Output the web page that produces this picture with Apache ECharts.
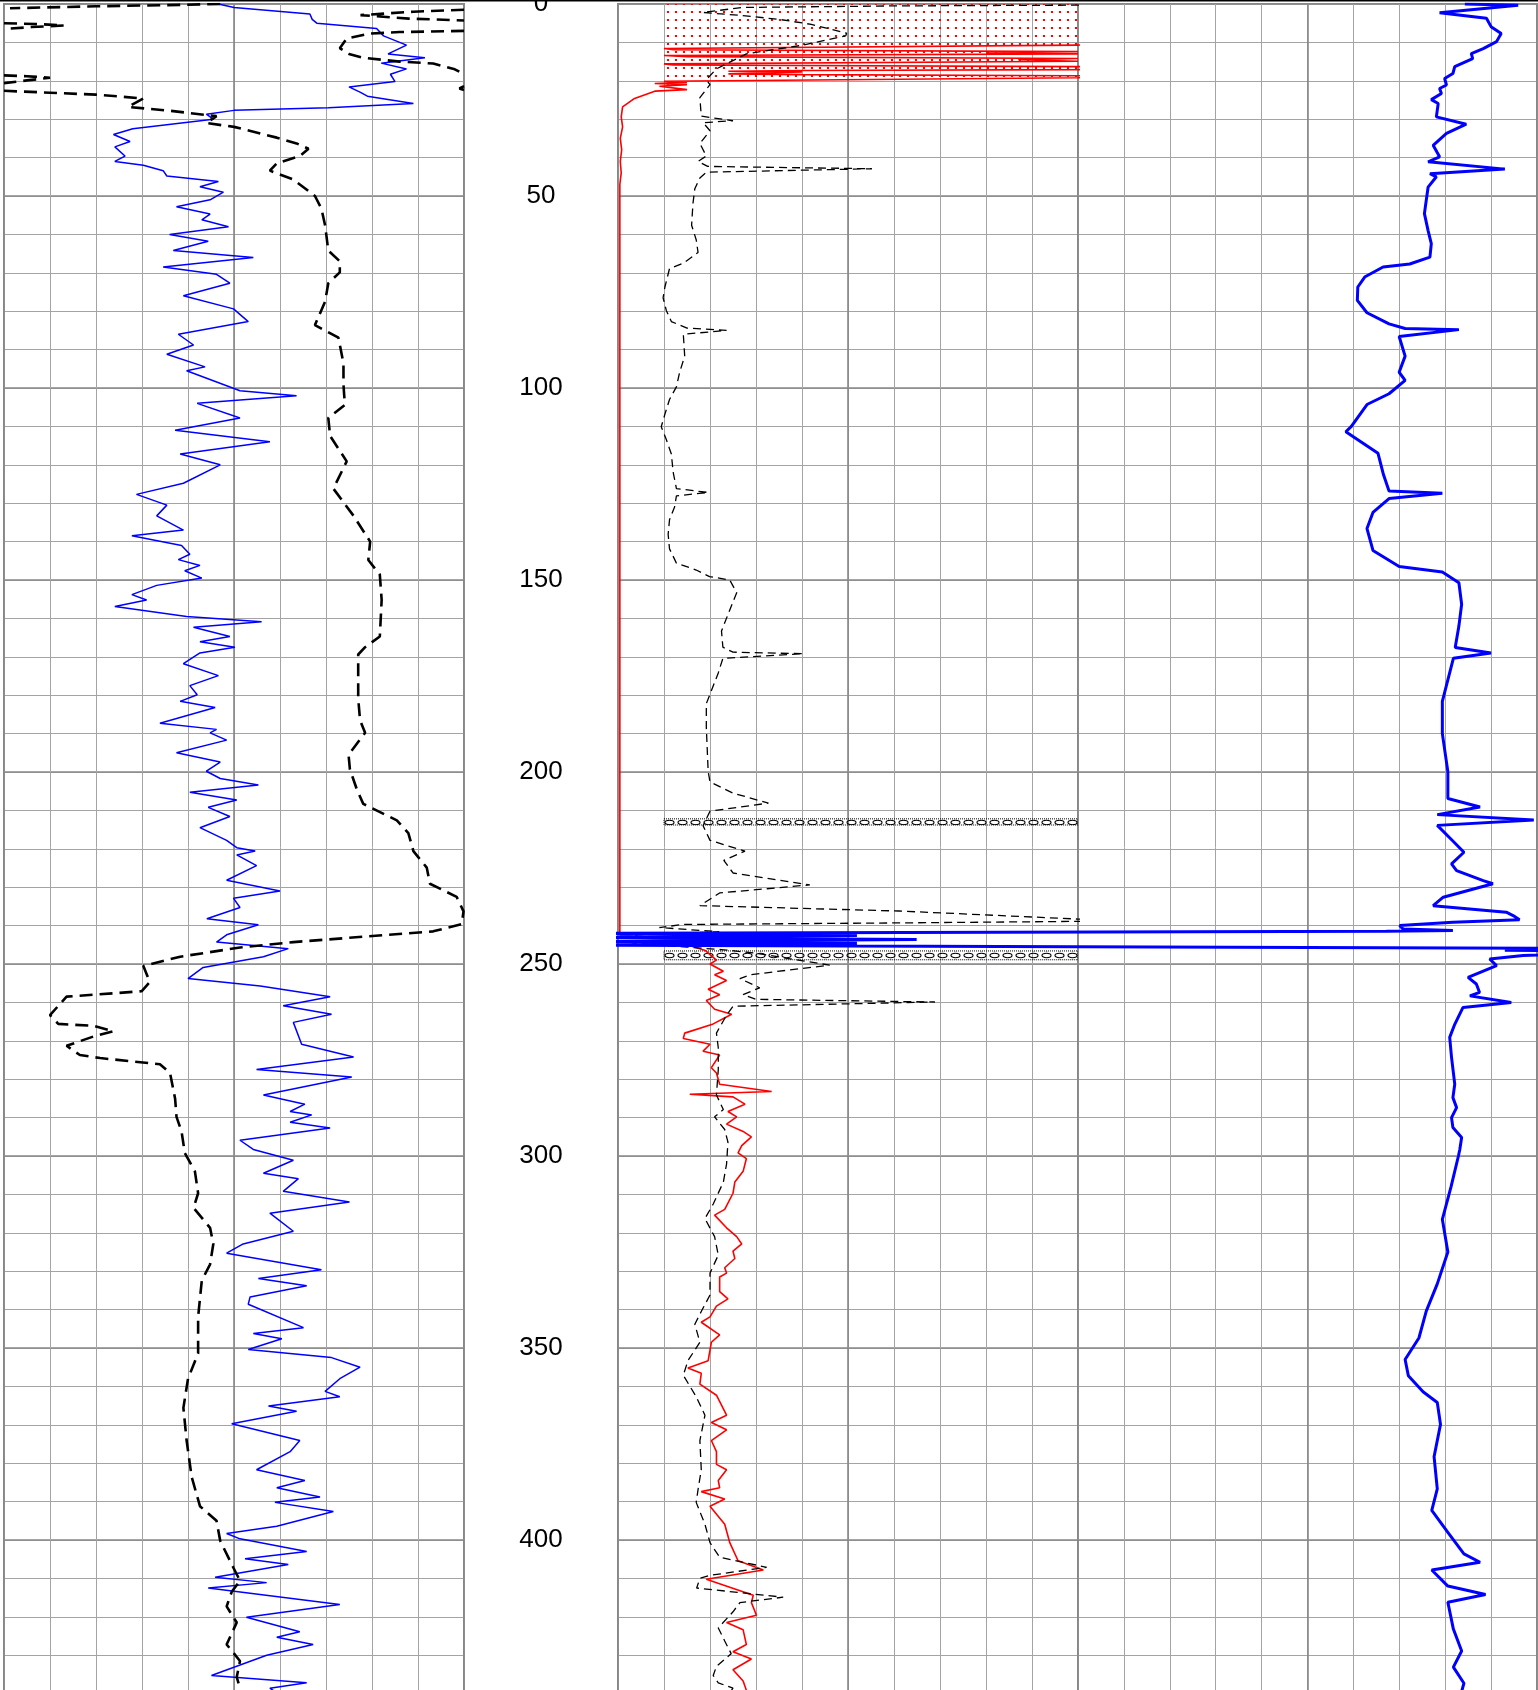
<!DOCTYPE html>
<html><head><meta charset="utf-8">
<script src="https://cdn.jsdelivr.net/npm/echarts/dist/echarts.min.js"></script>
<style>html,body{margin:0;padding:0;background:#fff}#c{width:1538px;height:1690px}</style>
</head><body><div id="c"></div>
<script>
// ---- depth scale / tick labels ----
const depthLabels = ['0','50','100','150','200','250','300','350','400'];
const BR = ['-','-'];

// ---- left track (x in chart divisions 0..10) ----
const leftBlue = [[4.66,0],[5.0,0.9],[6.65,2.6],[6.7,4.0],[6.8,5.0],[8.1,6.4],[8.25,8.3],[8.75,10.7],[8.35,13],[9.15,14],[8.2,15.4],[8.75,16.9],[8.4,18.3],[8.5,20.2],[7.5,21.6],[7.75,23],[7.9,24],[8.9,25.9],[7.05,27],[5.0,27.7],[4.4,28.7],[4.55,30],[2.8,32.5],[2.38,34],[2.74,35.8],[2.41,37.2],[2.63,39.6],[2.41,41],[3.03,42],[3.46,43.4],[3.54,44.8],[4.66,46.2],[4.26,47.6],[4.77,49],[4.48,51],[3.75,52.8],[4.48,54.7],[4.3,56.2],[4.88,58],[3.6,60],[4.44,61.8],[3.68,64.2],[5.42,66],[3.46,68.5],[4.62,70.4],[4.91,72.7],[3.9,76],[4.99,79.4],[5.31,82.7],[3.79,86],[4.12,88.8],[3.54,91.2],[4.37,94.5],[3.97,95.5],[5.13,100.7],[6.36,102],[4.2,104],[5.13,107.8],[3.72,111],[5.78,114],[3.83,117.2],[4.7,120],[3.9,124.8],[2.88,127.7],[3.54,130.5],[3.32,133.3],[3.9,137],[2.78,138.5],[3.86,141],[4.04,143.3],[3.79,144.7],[4.26,146.2],[3.93,147.6],[4.3,149.5],[3.32,151.4],[2.78,153.8],[3.1,155.2],[2.41,156.9],[3.97,159.5],[5.6,160.9],[4.12,162.3],[4.91,164.7],[4.26,166.1],[5.02,167.5],[4.26,169],[3.9,171.8],[4.66,174.9],[4.04,177.5],[4.2,179.9],[3.83,181.6],[4.59,183.2],[3.39,187.3],[4.62,188.9],[4.48,189.8],[4.84,191.7],[3.75,195],[4.7,197.4],[4.4,199.8],[4.7,201.7],[5.53,203.4],[4.04,205.3],[5.06,207.3],[4.44,209.2],[4.91,211.6],[4.26,214.5],[4.84,217.8],[5.06,219.7],[5.46,220.6],[5.06,221.6],[5.49,224.4],[4.84,228.2],[6.0,231],[4.99,232.9],[5.13,235.3],[4.41,238.2],[5.53,239.8],[4.84,242.4],[4.62,244.3],[6.18,246],[5.64,248.1],[4.33,250.9],[4.0,253.8],[5.57,255.7],[7.09,258.5],[6.07,260.9],[7.12,263.1],[6.29,265.2],[6.47,270.9],[7.6,274.2],[5.49,277.5],[7.56,279.4],[5.64,284.1],[6.54,286.5],[6.22,288.4],[6.69,289.3],[6.22,291.2],[7.09,292.7],[5.13,295.9],[5.42,298.3],[6.29,301.1],[5.64,304.5],[6.4,305.9],[6.07,309.2],[7.51,312],[5.78,314.9],[6.29,319.6],[5.2,322.9],[4.84,325.3],[6.9,329.6],[5.53,331.9],[6.58,333.8],[5.35,336.7],[5.31,338.6],[6.51,344.7],[5.42,346.2],[6.04,347.6],[5.31,350.4],[7.12,352.5],[7.74,355],[7.3,358],[6.98,361.3],[7.3,362.7],[5.75,365.1],[6.36,366.5],[4.95,369.7],[6.43,374.1],[6.22,377],[5.49,381.7],[6.54,384.5],[5.93,386.4],[6.87,388.8],[5.89,390.2],[7.16,392.6],[5.93,396.4],[4.84,398.3],[5.13,399.7],[6.58,403],[5.24,404.9],[6.18,406.4],[4.59,409.7],[5.71,411.1],[4.44,412.5],[7.3,416.8],[5.27,420.1],[6.43,423.9],[5.93,425.3],[6.72,427.2],[5.71,430],[4.51,435.3],[6.58,437.2],[5.78,438.6],[6.2,442]];

const leftBlack = [[4.7,0],[3.5,0.3],[2.0,0.6],[0.13,1.1],BR,
[10,1.5],[8.9,2.0],[7.75,2.9],[8.8,3.8],[10,4.3],BR,
[0,5.0],[0.7,5.2],[1.3,5.6],[0.6,6.0],[0,6.5],BR,
[10,7.0],[8.6,7.3],[7.95,7.7],[7.45,9.0],[7.3,11.5],[7.5,13.0],[7.8,14.0],[8.6,15.0],[9.33,15.5],[9.8,17.0],[10,18.3],BR,
[0,18.6],[0.5,18.8],[1.0,19.2],[0.5,19.9],[0,20.6],BR,
[10,21.4],[9.9,22.0],[10,22.4],BR,
[0,22.6],[1.0,23.1],[2.0,23.6],[3.03,24.6],[2.7,26.8],[3.6,27.8],[4.62,29.2],[4.4,31],[5.0,32],[5.93,34.8],[6.36,36.3],[6.62,37.7],[6.43,39.6],[5.93,41.5],[5.78,43.4],[6.29,45.7],[6.76,50],[6.9,53.3],[6.98,57.6],[7.05,64.2],[7.3,67],[7.3,69.9],[7.05,72.7],[6.98,77.5],[6.76,83.6],[7.27,86.9],[7.38,93.6],[7.38,99.2],[7.41,104.4],[7.05,107.8],[7.09,112.5],[7.45,119.1],[7.16,126.2],[7.6,133.3],[7.96,140],[7.92,144.8],[8.17,148.6],[8.21,155.2],[8.17,164.7],[7.85,167.5],[7.7,169.4],[7.7,180.8],[7.74,186.5],[7.85,189.8],[7.49,195.5],[7.52,199.3],[7.67,204.5],[7.81,208.3],[8.54,212.6],[8.79,215.9],[8.9,220.6],[9.19,224.9],[9.26,229.1],[9.84,232.5],[9.99,236.3],[9.95,239.6],[9.33,241.5],[6.29,244.3],[5.13,245.7],[3.83,248.1],[3.03,250.5],[3.17,254.7],[2.99,257.1],[1.36,258.5],[1.0,263.3],[1.18,265.6],[1.94,266.1],[2.38,267.5],[1.94,268.9],[1.36,271.3],[1.65,273.7],[2.09,274.5],[3.39,276.1],[3.61,278.4],[3.72,285.1],[3.75,289.8],[3.86,293.6],[3.93,299.2],[4.15,304],[4.22,309.7],[4.12,313.5],[4.48,318.7],[4.55,322.9],[4.48,328.2],[4.3,332.4],[4.22,341.9],[4.22,351.4],[4.0,358],[3.9,365.6],[3.97,374.1],[4.08,383.6],[4.26,391.2],[4.62,395],[4.7,400.2],[4.99,407.3],[5.13,410.6],[4.95,413.5],[4.84,417.3],[5.06,421.5],[4.84,427.2],[5.13,431.5],[5.06,435.7],[5.13,438.6],[5.1,442]];

// ---- center track ----
const centerRed = [[12,0],[12,10.5],[10,10.7],[1,11.6],[1.2,11.9],[10,12.4],[8,12.7],[10,13.0],[1,13.4],[1.5,13.7],[10,14.2],[8.7,14.5],[10,14.9],[1,15.6],[1.2,15.9],[10,16.3],[12,16.5],[12,16.9],[10,17.1],[4,17.3],[2.4,17.5],[4,17.7],[2.4,18.2],[4.0,18.4],[10,18.7],[12,18.9],[10,19.2],[1,20.1],[1.5,20.4],[0.8,20.7],[1.5,21.0],[0.9,21.4],[1.5,22.3],[0.8,22.7],[0.36,24.6],[0.1,26.8],[0.07,29.4],[0.1,32],[0.05,35],[0.08,38],[0.05,41],[0.07,44],[0.04,47],[0.04,50],[0.04,242.5],[1.8,243.6],[0.4,244.0],[1.5,245],[1.9,246.5],[2.14,249],[2.0,250],[2.29,251.9],[2.1,252.8],[2.36,254.3],[1.96,256.6],[2.21,258],[1.92,259.5],[2.1,261.8],[2.47,263.1],[2.07,265.6],[1.45,268],[1.42,269.4],[2.0,270.9],[1.85,272.7],[2.21,273.7],[2.03,277],[2.14,278.4],[2.21,281.3],[3.34,283.2],[1.56,283.9],[2.5,284.6],[2.76,286.5],[2.39,288.4],[2.58,289.8],[2.36,291.7],[2.72,293.6],[2.9,295],[2.69,297.3],[2.61,299.2],[2.79,300.7],[2.72,304],[2.54,306.8],[2.5,309.7],[2.32,313.9],[2.1,315.4],[2.36,318.7],[2.58,321],[2.69,322.9],[2.5,324.8],[2.54,326.7],[2.32,329.1],[2.36,330.5],[2.21,331.5],[2.21,335.3],[2.39,337.2],[2.14,339.1],[2.0,341.9],[1.81,343.3],[2.21,346.6],[2.03,348.5],[1.96,353.3],[1.52,355.2],[1.81,356.6],[1.78,359.4],[2.14,362.3],[2.36,367.5],[2.03,369.4],[2.36,371.3],[2.03,374.1],[2.14,377],[2.14,380.3],[2.36,381.7],[2.18,384.5],[2.21,386.4],[1.81,387.4],[2.32,389.3],[2.0,391.2],[2.32,395.9],[2.43,400.7],[2.61,405.4],[3.16,407.8],[1.92,410.2],[2.94,414.4],[2.9,416.3],[3.01,419.6],[2.36,421.5],[2.72,423.4],[2.79,427.2],[2.5,429.1],[2.9,431],[2.5,433.8],[2.72,436.7],[2.79,439.1],[2.6,442]];

const centerBlack = [[12,0.1],[10,0.3],[6,0.5],[2.7,0.9],[1.85,2.2],[2.7,3.0],[3.5,4.0],[4.2,5.3],[4.97,7.6],[4.95,8.3],[4.03,10.7],[2.79,13],[2.14,16.9],[1.92,19.7],[2.0,21],[1.78,24.4],[1.81,29.2],[2.5,30.4],[1.85,30.9],[2.0,33],[1.78,36.3],[1.92,39.6],[1.74,41],[1.95,42.3],[5.52,42.9],[1.92,43.8],[1.78,45.3],[1.67,48.1],[1.63,51.9],[1.6,57.6],[1.7,61.4],[1.74,64.7],[1.42,67.5],[1.12,68.9],[1.02,73.7],[0.98,76.5],[1.05,79.8],[1.16,82.7],[1.5,84.4],[2.36,85],[1.42,86],[1.45,91.7],[1.34,95.9],[1.27,99.7],[1.12,103],[1.02,106.8],[0.94,110.1],[1.05,113.4],[1.16,117.2],[1.2,122],[1.27,126.2],[1.96,127.2],[1.27,128.1],[1.23,131],[1.12,134.3],[1.09,138.1],[1.12,141.9],[1.27,145.6],[1.7,147.4],[1.99,149.1],[2.43,150],[2.58,153.3],[2.39,159],[2.25,163.3],[2.28,167.5],[2.5,168.8],[4.03,169.2],[2.28,170.4],[2.18,174.2],[1.92,182.2],[1.92,188.4],[1.96,199.8],[2.0,202.6],[2.5,205.5],[3.27,208.1],[2.0,210.2],[1.85,214],[2.0,217.8],[2.76,220.6],[2.3,223],[2.5,226.3],[4.17,229.4],[2.21,231.5],[1.78,234.8],[6.1,236.2],[7.6,237],[10,238.3],[12,238.6],[10,238.9],[6.1,239.3],[1.42,239.7],[0.9,240.5],[2.2,241.6],[0.4,242.4],[0.3,244.5],[1.5,245.6],[2.3,246.3],[3.0,247.2],[4.6,250.3],[2.87,252.8],[2.65,253.8],[3.08,256.2],[2.72,258],[3.0,259.2],[6.89,259.9],[2.5,261.0],[2.36,263.3],[2.14,268],[2.18,271.8],[2.18,277.5],[2.14,284.1],[2.29,287.9],[2.1,289.8],[2.32,293.1],[2.39,296.4],[2.36,302.1],[2.29,306.8],[2.07,312.5],[1.89,316.3],[2.1,321],[2.18,325.8],[2.0,330.5],[2.0,336.2],[1.81,340.5],[1.67,343.8],[1.78,348.5],[1.52,353.3],[1.42,357.1],[1.7,362.7],[1.89,367.5],[1.78,374.1],[1.81,381.7],[1.74,386.9],[1.7,390.2],[1.89,395.9],[2.0,400.7],[2.21,404.5],[3.23,407.1],[2.0,409.2],[1.78,410],[1.71,412.5],[3.59,414.9],[2.65,416.3],[2.5,418.7],[2.18,422.9],[2.32,426.3],[2.46,429.6],[2.14,432.9],[2.07,435.3],[2.18,437.2],[2.5,438.6],[2.3,442]];

// shaded intervals in the center track: [fromX, topDepth, toX, bottomDepth]
const centerBands = [[1,212.2,10,213.8],[1,246.6,10,248.9]];
const redFillBase = 1, redFillEnd = 21;

// ---- right track (x in divisions; negatives reach into the center track) ----
const rightBlue = [[8.43,0],[9.59,0.3],[7.88,2.3],[8.9,3.7],[9.0,5.9],[9.22,7.7],[9.12,9.8],[8.83,11.6],[8.57,12.9],[8.6,14.2],[8.21,16.3],[8.17,18.1],[7.99,19.4],[8.03,21.1],[7.88,22],[7.92,23.3],[7.7,24.9],[7.85,25.9],[7.81,29.4],[8.46,31.3],[8.03,33.7],[7.74,36.8],[7.88,39.8],[7.63,41.1],[9.3,43],[7.67,44.2],[7.81,45],[7.63,47.7],[7.59,51.1],[7.55,54.6],[7.63,59],[7.7,62.4],[7.67,65.9],[7.23,67.7],[6.65,68.5],[6.25,71.1],[6.1,73.7],[6.09,77.2],[6.3,80.4],[6.78,83.3],[7.13,84.5],[8.3,84.8],[7.0,86.6],[7.13,91.7],[7.0,95.9],[7.13,98],[6.78,101.5],[6.3,104.3],[5.96,110],[5.84,111.4],[6.19,114.2],[6.54,117],[6.66,122.6],[6.78,126.8],[7.94,127.4],[6.78,128.8],[6.43,132.4],[6.3,136.6],[6.43,142.3],[7.0,146.5],[7.94,147.9],[8.3,150.7],[8.36,156.3],[8.3,162],[8.22,167.6],[9.0,169],[8.18,170.4],[8.06,176],[7.94,181.6],[7.94,190],[8.06,199.9],[8.06,206.9],[8.76,209.1],[7.83,211.1],[9.93,212.5],[7.83,213.9],[8.18,218.1],[8.41,220.9],[8.14,223.9],[8.25,225.7],[8.83,228.3],[9.04,229.1],[7.96,232.6],[7.74,234.8],[9.33,236.5],[9.48,237.4],[9.62,238.5],[8.17,239.1],[7.01,240],[7.09,240.9],[8.17,241.3],[6.72,241.5],[-10.5,242.0],[-4.8,242.6],[-10.5,243.1],[-3.5,243.6],[-10.5,244.2],[-4.8,244.6],[-10.5,245.1],[12,246.0],[9.3,246.4],[12,246.8],[9.7,247.8],[8.97,248.7],[9.12,250.4],[8.5,253.5],[8.68,255.2],[8.75,257.4],[8.54,258.3],[9.44,260],[8.39,261.3],[8.21,265.7],[8.1,269.1],[8.14,274.3],[8.21,281.3],[8.17,284.8],[8.25,287.4],[8.14,290],[8.17,292.6],[8.36,295.2],[8.32,298.3],[8.29,300],[8.13,308],[7.94,316.5],[8.06,325],[7.83,333.3],[7.59,340.4],[7.43,347.4],[7.13,353],[7.2,357.2],[7.52,361.4],[7.83,364.2],[7.9,369.9],[7.76,378.3],[7.83,386.7],[7.71,392.3],[8.06,398],[8.41,403.6],[8.76,405.8],[7.71,407.8],[8.06,412],[8.88,414.2],[8.06,416.2],[8.18,423.2],[8.36,428.9],[8.18,433.1],[8.41,437.3],[8.3,442]];

// ---------------------------------------------------------------
const PXPU = 3.84, TOP = 4, GH = 1700, YMAX = GH / PXPU;
const tracks = [{left:4,width:460},{left:618,width:460},{left:1078,width:459}];

function dotPattern(){
  const c=document.createElement('canvas'); c.width=8; c.height=8;
  const g=c.getContext('2d'); g.fillStyle='#ff0000'; g.fillRect(3,3,2,2);
  return {image:c, repeat:'repeat'};
}
function ringPattern(){
  const c=document.createElement('canvas'); c.width=13; c.height=7;
  const g=c.getContext('2d'); g.strokeStyle='#000'; g.lineWidth=1.1;
  g.beginPath(); g.ellipse(6.5,3.5,4.5,2.2,0,0,Math.PI*2); g.stroke();
  return {image:c, repeat:'repeat'};
}

const grids=[], xAxes=[], yAxes=[];
const minor = '#a4a4a4', major = '#888';
tracks.forEach((t,i)=>{
  grids.push({left:t.left, top:TOP, width:t.width, height:GH, show:true, borderColor:major, borderWidth:2,
    containLabel:false, outerBoundsMode:'none'});
  [[1,minor,1],[5,major,1.6]].forEach(([iv,col,w])=>{
    xAxes.push({gridIndex:i,type:'value',position:'bottom',offset:0,min:0,max:10,interval:iv,axisLine:{show:false},axisTick:{show:false},
      axisLabel:{show:false},splitLine:{show:true,lineStyle:{color:col,width:w}}});
  });
  [[10,minor,1],[50,major,1.6]].forEach(([iv,col,w])=>{
    const isLab = (i===1 && iv===50);
    yAxes.push({gridIndex:i,type:'value',position:'left',offset:0,inverse:true,min:0,max:YMAX,interval:iv,axisLine:{show:false},axisTick:{show:false},
      axisLabel:{show:isLab,align:'center',margin:77,fontSize:26,color:'#000',fontFamily:'Liberation Sans, Arial, sans-serif',
        formatter:v=>depthLabels.indexOf(String(v))>=0?String(v):''},
      splitLine:{show:true,lineStyle:{color:col,width:w}}});
  });
});
// overlay grid for the right curve (spans center + right tracks)
grids.push({left:618, top:TOP, width:919, height:GH, show:false, containLabel:false, outerBoundsMode:'none'});
xAxes.push({gridIndex:3,type:'value',position:'bottom',min:-10,max:10,show:false,splitLine:{show:false}});
yAxes.push({gridIndex:3,type:'value',position:'left',inverse:true,min:0,max:YMAX,show:false,splitLine:{show:false}});

const dots = dotPattern(), rings = ringPattern();

const option = {
  animation:false,
  backgroundColor:'#fff',
  grid:grids, xAxis:xAxes, yAxis:yAxes,
  graphic:[{type:'line',shape:{x1:0,y1:0.75,x2:1538,y2:0.75},style:{stroke:'#000',lineWidth:1.5},z:100}],
  series:[
    {type:'custom',xAxisIndex:2,yAxisIndex:2,z:2,clip:true,data:[0],
      renderItem:(params,api)=>{
        const pts=[]; let last=0;
        centerRed.forEach(p=>{ if(p[1]<=redFillEnd){ pts.push(api.coord([Math.min(Math.max(p[0],redFillBase),10),p[1]])); last=p[1]; }});
        pts.push(api.coord([redFillBase,last])); pts.push(api.coord([redFillBase,0]));
        return {type:'polygon',shape:{points:pts},style:{fill:dots,stroke:null}};
      }},
    {type:'custom',xAxisIndex:2,yAxisIndex:2,z:2,clip:true,data:centerBands,
      renderItem:(params,api)=>{
        const a=api.coord([api.value(0),api.value(1)]), b=api.coord([api.value(2),api.value(3)]);
        return {type:'rect',shape:{x:a[0],y:a[1],width:b[0]-a[0],height:b[1]-a[1]},
          style:{fill:rings,stroke:'#000',lineWidth:1,lineDash:[1,1]}};
      }},
    {name:'leftBlue',type:'line',xAxisIndex:0,yAxisIndex:0,data:leftBlue,symbol:'none',z:3,
      lineStyle:{color:'#0000ff',width:1.5}},
    {name:'leftBlack',type:'line',xAxisIndex:0,yAxisIndex:0,data:leftBlack,symbol:'none',z:4,connectNulls:false,
      lineStyle:{color:'#000',width:2.6,type:[13,7]}},
    {name:'centerRed',type:'line',xAxisIndex:2,yAxisIndex:2,data:centerRed,symbol:'none',z:3,
      lineStyle:{color:'#ff0000',width:1.6}},
    {name:'centerBlack',type:'line',xAxisIndex:2,yAxisIndex:2,data:centerBlack,symbol:'none',z:4,
      lineStyle:{color:'#000',width:1.3,type:[8,5]}},
    {name:'rightBlue',type:'line',xAxisIndex:6,yAxisIndex:6,data:rightBlue,symbol:'none',z:5,
      lineStyle:{color:'#0000ff',width:3}}
  ]
};
const chart = echarts.init(document.getElementById('c'),null,{renderer:'canvas'});
chart.setOption(option);
</script></body></html>
